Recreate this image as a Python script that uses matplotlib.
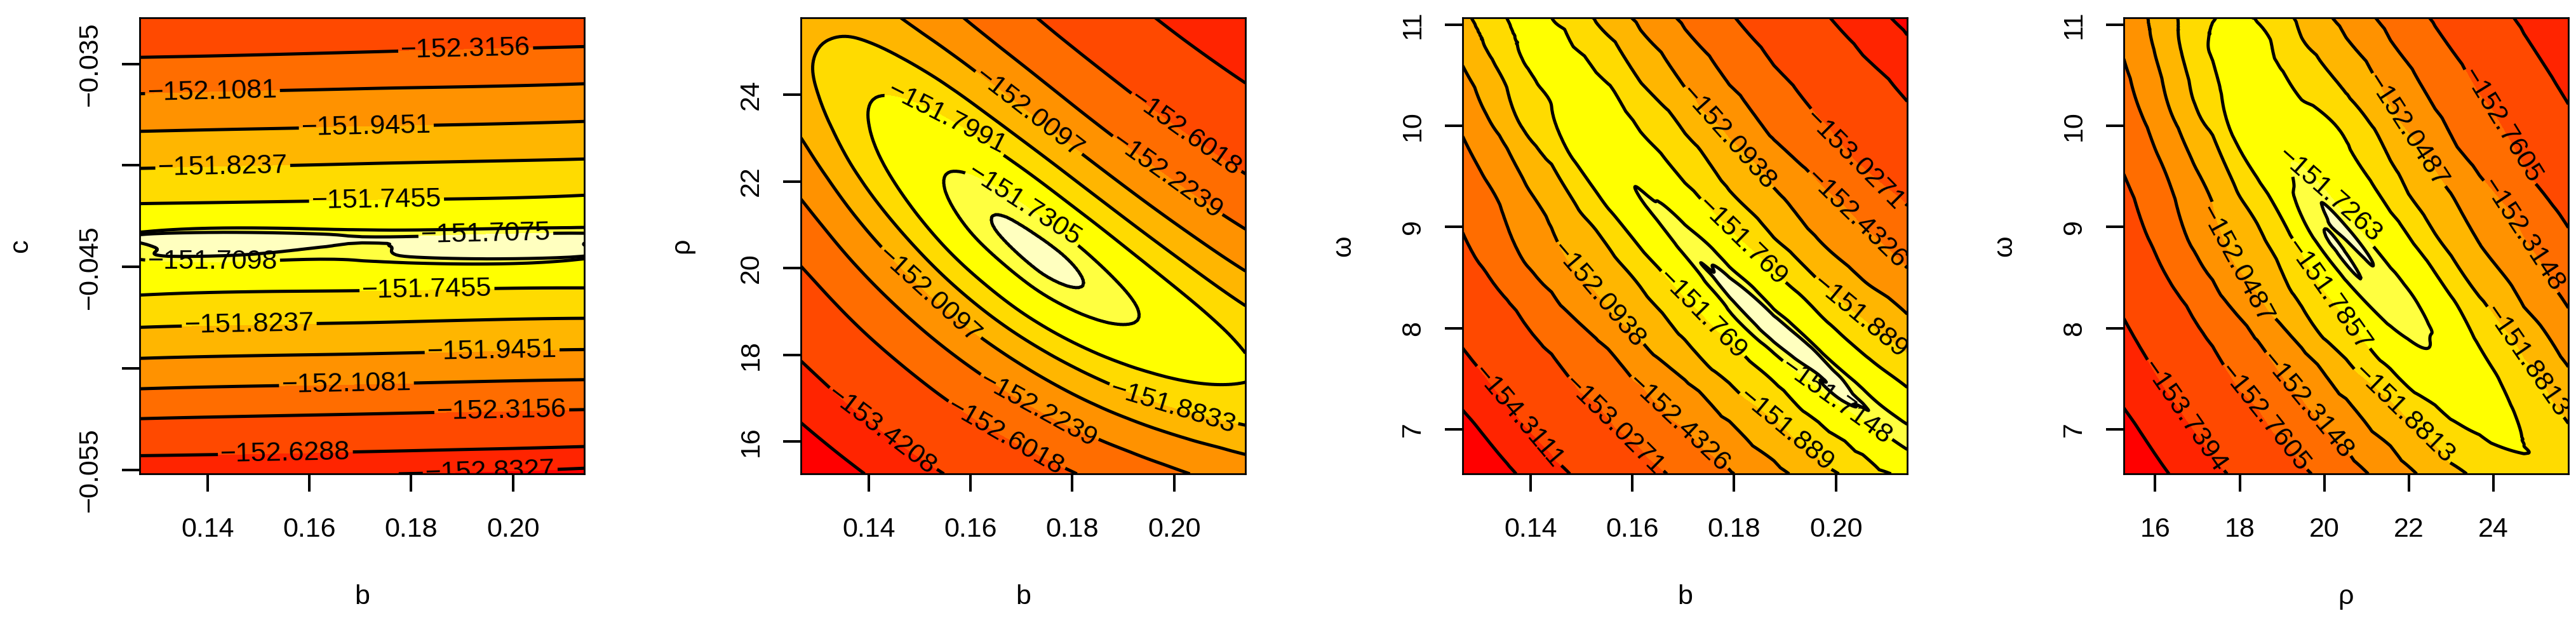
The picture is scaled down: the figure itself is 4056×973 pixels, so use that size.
import numpy as np
import matplotlib
matplotlib.use("Agg")
import matplotlib.pyplot as plt
import matplotlib.tri as mtri

plt.rcParams['font.family'] = ['Liberation Sans', 'DejaVu Sans']

# profile log-likelihood values
b_grid = [0.1267, 0.13543, 0.14416, 0.15289, 0.16162, 0.17035, 0.17908, 0.18781, 0.19654, 0.20527, 0.2140]

# panel 1: b vs c
b_cols_c = [0.1267, 0.17035, 0.2140]
c_grid = [-0.05519, -0.052944, -0.050698, -0.048452, -0.046206, -0.04460, -0.04396,
          -0.04330, -0.041714, -0.039468, -0.037222, -0.034976, -0.03273]
loglik_b_c = [
    [-152.7950, -152.8260, -152.8850],
    [-152.3906, -152.4281, -152.4656],
    [-152.0711, -152.0988, -152.1265],
    [-151.8569, -151.8739, -151.8909],
    [-151.7398, -151.7472, -151.7545],
    [-151.7096, -151.7094, -151.7098],
    [-151.7086, -151.7078, -151.7074],
    [-151.7097, -151.7090, -151.7080],
    [-151.7533, -151.7458, -151.7384],
    [-151.8640, -151.8500, -151.8360],
    [-152.0373, -152.0158, -151.9943],
    [-152.2764, -152.2455, -152.2146],
    [-152.5946, -152.5520, -152.5094]]

# panel 2: b vs rho
rho_grid = [15.26, 16.311, 17.362, 18.413, 19.464, 20.515, 21.566, 22.617, 23.668, 24.719, 25.77]
loglik_b_rho = [
    [-154.9162, -154.3734, -153.9027, -153.4994, -153.1587, -152.8753, -152.6437, -152.4581, -152.3121, -152.1993, -152.1127],
    [-154.2363, -153.7404, -153.3168, -152.9607, -152.6672, -152.4307, -152.2457, -152.1061, -152.0054, -151.9370, -151.8939],
    [-153.6608, -153.2144, -152.8404, -152.5340, -152.2898, -152.1023, -151.9657, -151.8738, -151.8201, -151.7977, -151.7994],
    [-153.1801, -152.7855, -152.4632, -152.2083, -152.0152, -151.8784, -151.7918, -151.7490, -151.7434, -151.7680, -151.8153],
    [-152.7858, -152.4449, -152.1760, -151.9741, -151.8336, -151.7486, -151.7131, -151.7204, -151.7637, -151.8359, -151.9295],
    [-152.4709, -152.1849, -151.9707, -151.8230, -151.7361, -151.7055, -151.7201, -151.7780, -151.8707, -151.9908, -152.1307],
    [-152.2293, -151.9994, -151.8408, -151.7480, -151.7152, -151.7362, -151.8045, -151.9132, -152.0553, -152.2232, -152.4091],
    [-152.0564, -151.8832, -151.7807, -151.7432, -151.7647, -151.8390, -151.9592, -152.1185, -152.3095, -152.5247, -152.7559],
    [-151.9488, -151.8326, -151.7862, -151.8040, -151.8797, -152.0067, -152.1785, -152.3877, -152.6269, -152.8884, -153.1639],
    [-151.9042, -151.8448, -151.8544, -151.9269, -152.0561, -152.2354, -152.4577, -152.7158, -153.0020, -153.3084, -153.6268],
    [-151.9219, -151.9187, -151.9835, -152.1099, -152.2917, -152.5219, -152.7935, -153.0990, -153.4307, -153.7803, -154.1396]]

# panels 3 and 4 are sampled along the ridge: row_frac places each row between
# the ridge (0) and the lower (-1) or upper (+1) edge of the omega range
row_frac = [-1, -0.62, -0.38, -0.22, -0.11, -0.045, 0, 0.045, 0.11, 0.22, 0.38, 0.62, 1]

# panel 3: b vs omega
ridge_b_omega = [10.85, 10.85, 10.64, 9.97, 9.38, 8.86, 8.385, 7.965, 7.63, 7.27, 6.85]
loglik_b_omega = [
    [-156.5607, -155.4851, -154.6139, -153.9027, -153.3202, -152.8458, -152.4665, -152.1740, -151.9618, -151.8224, -151.7444],
    [-153.8426, -153.1474, -152.6918, -152.4788, -152.2964, -152.1374, -152.0038, -151.8931, -151.8047, -151.7525, -151.7279],
    [-152.8706, -152.3585, -152.0705, -151.9864, -151.9201, -151.8640, -151.8181, -151.7779, -151.7419, -151.7248, -151.7203],
    [-152.4270, -152.0366, -151.8494, -151.8094, -151.7800, -151.7583, -151.7432, -151.7303, -151.7171, -151.7140, -151.7165],
    [-152.1889, -151.8872, -151.7690, -151.7473, -151.7304, -151.7195, -151.7144, -151.7120, -151.7100, -151.7102, -151.7144],
    [-152.0708, -151.8243, -151.7466, -151.7310, -151.7175, -151.7125, -151.7100, -151.7085, -151.7085, -151.7094, -151.7135],
    [-151.9990, -151.7922, -151.7420, -151.7281, -151.7153, -151.7115, -151.7090, -151.7072, -151.7078, -151.7105, -151.7129],
    [-151.9956, -151.7909, -151.7421, -151.7286, -151.7165, -151.7130, -151.7100, -151.7088, -151.7139, -151.7186, -151.7144],
    [-151.9907, -151.7890, -151.7423, -151.7305, -151.7216, -151.7181, -151.7194, -151.7266, -151.7458, -151.7585, -151.7501],
    [-151.9826, -151.7859, -151.7432, -151.7369, -151.7388, -151.7506, -151.7707, -151.8019, -151.8548, -151.8979, -151.9048],
    [-151.9711, -151.7816, -151.7457, -151.7535, -151.7823, -151.8333, -151.9040, -151.9978, -152.1287, -152.2547, -152.3382],
    [-151.9543, -151.7759, -151.7520, -151.7947, -151.8872, -152.0294, -152.2184, -152.4572, -152.7571, -153.0778, -153.3812],
    [-151.9291, -151.7684, -151.7685, -151.9023, -152.1523, -152.5076, -152.9609, -153.5058, -154.1338, -154.8315, -155.5776]]

# panel 4: rho vs omega
rho_cols = [15.258, 16.3092, 17.3604, 18.4116, 19.4628, 20.514, 21.5652, 22.6164, 23.6676, 24.7188, 25.77]
ridge_rho_omega = [10.95, 10.95, 10.9, 10.26, 9.62, 9.02, 8.46, 7.97, 7.45, 6.9, 6.75]
loglik_rho_omega = [
    [-155.5455, -154.6720, -153.9404, -153.3375, -152.8506, -152.4680, -152.1791, -151.9743, -151.8550, -151.8150, -151.8450],
    [-153.6356, -152.9900, -152.5106, -152.2724, -152.0997, -151.9725, -151.8827, -151.8218, -151.7936, -151.8000, -151.8012],
    [-152.8926, -152.3837, -152.0450, -151.9176, -151.8376, -151.7888, -151.7654, -151.7592, -151.7717, -151.7845, -151.8085],
    [-152.5525, -152.1264, -151.8721, -151.7955, -151.7510, -151.7250, -151.7240, -151.7360, -151.7632, -151.7851, -151.8136],
    [-152.3744, -152.0020, -151.8014, -151.7550, -151.7200, -151.7100, -151.7140, -151.7291, -151.7605, -151.7859, -151.8171],
    [-152.2937, -151.9521, -151.7813, -151.7480, -151.7190, -151.7080, -151.7130, -151.7285, -151.7601, -151.7865, -151.8192],
    [-152.2516, -151.9312, -151.7799, -151.7450, -151.7280, -151.7110, -151.7140, -151.7300, -151.7604, -151.7869, -151.8207],
    [-152.2507, -151.9308, -151.7801, -151.7455, -151.7350, -151.7260, -151.7240, -151.7400, -151.7666, -151.7964, -151.8579],
    [-152.2493, -151.9303, -151.7805, -151.7470, -151.7450, -151.7400, -151.7400, -151.7553, -151.7894, -151.8251, -151.9255],
    [-152.2471, -151.9295, -151.7811, -151.7500, -151.7550, -151.7550, -151.7665, -151.8119, -151.8646, -151.9199, -152.0858],
    [-152.2440, -151.9284, -151.7822, -151.7540, -151.7750, -151.7823, -151.8466, -151.9392, -152.0455, -152.1614, -152.4276],
    [-152.2396, -151.9270, -151.7844, -151.7600, -151.8300, -151.8741, -152.0131, -152.2022, -152.4302, -152.6975, -153.1272],
    [-152.2333, -151.9254, -151.7892, -151.7920, -151.9091, -152.1230, -152.4243, -152.8116, -153.2916, -153.8795, -154.5988]]

# contour levels (labelled ones as printed in the figure)
levels_b_c = [-152.8327, -152.6288, -152.3156, -152.1081, -151.9451, -151.8237, -151.7455, -151.7098, -151.7075]
levels_b_rho = [-154.16, -153.4208, -152.6018, -152.2239, -152.0097, -151.8833, -151.7991, -151.7305, -151.7098]
levels_b_omega = [-155.3, -154.3111, -153.0271, -152.4326, -152.0938, -151.889, -151.769, -151.7148, -151.7098]
levels_rho_omega = [-154.66, -153.7394, -152.7605, -152.3148, -152.0487, -151.8813, -151.7857, -151.7263, -151.7098]

# R heat.colors(10)
HEAT = ["#FF0000", "#FF2400", "#FF4900", "#FF6D00", "#FF9200",
        "#FFB600", "#FFDB00", "#FFFF00", "#FFFF40", "#FFFFBF"]

# where the contour labels sit
lab_b_c = [(0.1907, -0.03428), (0.1410, -0.03651), (0.1712, -0.03817), (0.1430, -0.04001), (0.1732, -0.04166),
           (0.1947, -0.04374), (0.1410, -0.04467), (0.1831, -0.04603), (0.1482, -0.04784), (0.1959, -0.04914),
           (0.1673, -0.05079), (0.1978, -0.05215), (0.1553, -0.05415), (0.1955, -0.05486)]
lab_b_rho = [(0.15324, 22.978), (0.16865, 21.112), (0.17135, 23.565), (0.20217, 23.09), (0.19842, 22.09),
             (0.15216, 19.42), (0.19991, 16.857), (0.17324, 16.725), (0.16703, 16.138), (0.14270, 16.276)]
lab_b_omega = [(0.17825, 9.858), (0.20325, 9.643), (0.20286, 9.019), (0.18103, 8.825), (0.2040, 8.06),
               (0.1735, 8.123), (0.15405, 8.357), (0.20026, 7.285), (0.18989, 6.970), (0.16952, 7.090),
               (0.15683, 7.051), (0.13817, 7.148)]
lab_rho_omega = [(24.074, 9.969), (21.887, 9.926), (24.477, 8.872), (24.713, 7.645), (20.07, 9.291),
                 (20.137, 8.338), (18.185, 8.699), (19.599, 7.241), (18.623, 7.126), (16.772, 7.154),
                 (22.055, 7.212)]

OMEGA_LIM = (6.562, 11.066)


def ridge_rows(xs, ridge, lo, hi):
    X = np.zeros((len(row_frac), len(xs)))
    Y = np.zeros_like(X)
    for j, (x, r) in enumerate(zip(xs, ridge)):
        for i, t in enumerate(row_frac):
            X[i, j] = x
            Y[i, j] = r + t * (r - lo) if t < 0 else r + t * (hi - r)
    return X, Y


def smooth_mesh(Z, X, Y):
    # cubic refinement on the sample lattice, then mapped to data coordinates
    Z = np.asarray(Z)
    ny, nx = Z.shape
    I, J = np.meshgrid(np.linspace(0, 1, ny), np.linspace(0, 1, nx), indexing='ij')
    tris = []
    for i in range(ny - 1):
        for j in range(nx - 1):
            a = i * nx + j
            tris += [(a, a + 1, a + nx + 1), (a, a + nx + 1, a + nx)]
    tri = mtri.Triangulation(J.ravel(), I.ravel(), tris)
    tf, zf = mtri.UniformTriRefiner(tri).refine_field(Z.ravel(), subdiv=4)
    xf = mtri.LinearTriInterpolator(tri, np.ravel(X))(tf.x, tf.y)
    yf = mtri.LinearTriInterpolator(tri, np.ravel(Y))(tf.x, tf.y)
    return mtri.Triangulation(np.asarray(xf), np.asarray(yf), tf.triangles), zf


def fmt(v):
    return f"{v:.7g}".replace("-", "\u2212")


X1, Y1 = np.meshgrid(b_cols_c, c_grid)
X2, Y2 = np.meshgrid(b_grid, rho_grid)
X3, Y3 = ridge_rows(b_grid, ridge_b_omega, *OMEGA_LIM)
X4, Y4 = ridge_rows(rho_cols, ridge_rho_omega, *OMEGA_LIM)

b_ticks = ([0.14, 0.16, 0.18, 0.20], ["0.14", "0.16", "0.18", "0.20"])
rho_ticks = ([16, 18, 20, 22, 24], ["16", "18", "20", "22", "24"])
omega_ticks = ([7, 8, 9, 10, 11], ["7", "8", "9", "10", "11"])
panels = [
    (loglik_b_c, X1, Y1, (0.1267, 0.2140), (-0.05519, -0.03273), levels_b_c, [], levels_b_c, lab_b_c,
     "b", "c", b_ticks,
     ([-0.055, -0.050, -0.045, -0.040, -0.035], ["\u22120.055", "", "\u22120.045", "", "\u22120.035"])),
    (loglik_b_rho, X2, Y2, (0.1267, 0.2140), (15.26, 25.77), levels_b_rho,
     [levels_b_rho[0], levels_b_rho[-1]], levels_b_rho[1:-1], lab_b_rho, "b", "\u03c1", b_ticks, rho_ticks),
    (loglik_b_omega, X3, Y3, (0.1267, 0.2140), OMEGA_LIM, levels_b_omega,
     [levels_b_omega[0], levels_b_omega[-1]], levels_b_omega[1:-1], lab_b_omega, "b", "\u03c9", b_ticks, omega_ticks),
    (loglik_rho_omega, X4, Y4, (15.258, 25.77), OMEGA_LIM, levels_rho_omega,
     [levels_rho_omega[0], levels_rho_omega[-1]], levels_rho_omega[1:-1], lab_rho_omega, "\u03c1", "\u03c9",
     rho_ticks, omega_ticks),
]

fig = plt.figure(figsize=(40.56, 9.73), dpi=100)
lefts = [220, 1261, 2303, 3344]
for k, (Z, X, Y, xlim, ylim, L, L_plain, L_lab, lab, xl, yl, xt, yt) in enumerate(panels):
    ax = fig.add_axes([lefts[k] / 4056, 227 / 973, 700 / 4056, 718 / 973])
    td, zf = smooth_mesh(Z, X, Y)
    lo = min(zf.min(), L[0]) - 1e-6
    hi = max(zf.max(), L[-1]) + 1e-6
    ax.tricontourf(td, zf, levels=[lo] + L + [hi], colors=HEAT)
    if L_plain:
        ax.tricontour(td, zf, levels=L_plain, colors='k', linewidths=3.6, linestyles='solid')
    cs = ax.tricontour(td, zf, levels=L_lab, colors='k', linewidths=3.6, linestyles='solid')
    ax.clabel(cs, manual=lab, inline=True, fmt=fmt, fontsize=31, inline_spacing=4)

    ax.set_xlim(*xlim)
    ax.set_ylim(*ylim)
    ax.set_xticks(*xt)
    ax.set_yticks(*yt, rotation=90, va='center')
    ax.tick_params(direction='out', length=20, width=2.9, labelsize=31)
    ax.tick_params(axis='x', pad=29)
    ax.tick_params(axis='y', pad=22)
    for s in ax.spines.values():
        s.set_linewidth(2)
    ax.set_xlabel(xl, fontsize=31)
    ax.xaxis.label.set_va('center')
    ax.xaxis.set_label_coords(0.5, -194 / 718)
    ax.set_ylabel(yl, fontsize=31)
    ax.yaxis.label.set_va('center')
    ax.yaxis.label.set_ha('center')
    ax.yaxis.set_label_coords(-188 / 700, 0.5)

fig.savefig("out.png", dpi=100)
